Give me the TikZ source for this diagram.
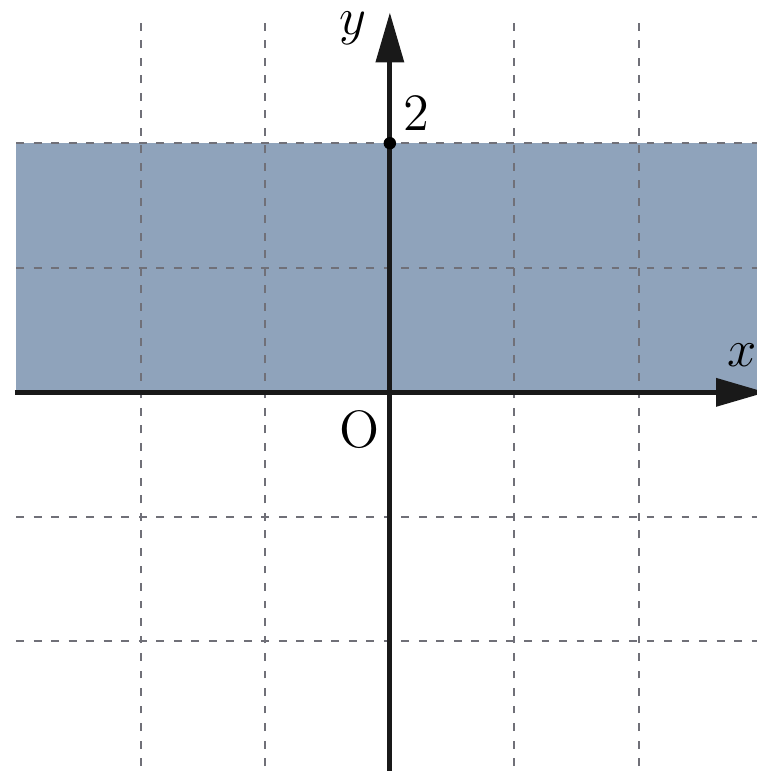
\documentclass[tikz,border=0pt]{standalone}
\usepackage{amsmath, amssymb}
\usepackage{tikz}
\usetikzlibrary{calc, arrows.meta}
\definecolor{regionblue}{HTML}{8FA3BB}
\definecolor{gridgray}{HTML}{707078}

\begin{document}
\begin{tikzpicture}[scale=1,
            axisline/.style={black!90, line width=1.15pt, -{Triangle[length=4mm, width=2.2mm]}},
            gridline/.style={gridgray, line width=0.45pt, dash pattern=on 1.8pt off 2.2pt}]
            \useasboundingbox (-3.13,-3.04) rectangle (2.94,3.15);
            \coordinate (O) at (0,0);
            \coordinate (P) at (0,2);
            \coordinate (XL) at (-3.01,0);
            \coordinate (XR) at (3.02,0);
            \coordinate (YB) at (0,-3.1);
            \coordinate (YT) at (0,3.05);
            % region 0 <= y <= 2
            \fill[regionblue] (-3,0) rectangle (3,2);
            \foreach \k in {-2,-1,1,2} {
                \draw[gridline] (\k,-3) -- (\k,3);
                \draw[gridline] (-3,\k) -- (3,\k);
            }
            \draw[axisline] (XL) -- (XR);
            \draw[axisline] (YB) -- (YT);
            \fill[black] (P) circle (0.05);
            \node[font=\large] (labO) at (-0.24,-0.3) {O};
            \node[font=\large] (lab2) at (0.21,2.24) {$2$};
            \node[font=\large] (labx) at (2.83,0.3) {$x$};
            \node[font=\large] (laby) at (-0.3,2.92) {$y$};
        \end{tikzpicture}
\end{document}
